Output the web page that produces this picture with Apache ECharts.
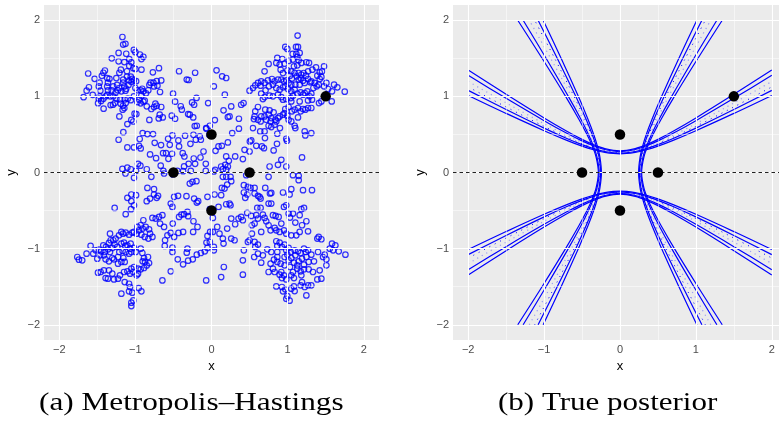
<!DOCTYPE html>
<html>
<head>
<meta charset="utf-8">
<script src="https://cdn.jsdelivr.net/npm/echarts@6/dist/echarts.min.js"></script>
<style>
  html, body { margin: 0; padding: 0; background: #fff; }
  #chart { width: 779px; height: 425px; }
</style>
</head>
<body>
<div id="chart"></div>
<script>
// tick values shared by both panels
var ticks = [-2, -1, 0, 1, 2];
var minorLines = [-1.5, -0.5, 0.5, 1.5];

// the five data points (black dots)
var obsPoints = [[-0.5, 0], [0.5, 0], [0, 0.5], [0, -0.5], [1.5, 1]];

// Metropolis-Hastings samples, read quadrant by quadrant
var mhTopLeft = [
  [-1.17,1.78],[-1.16,1.68],[-1.13,1.69],[-1.22,1.57],[-1.12,1.56],[-1.02,1.61],[-1.00,1.58],[-0.94,1.55],
  [-0.92,1.49],[-0.895,1.52],[-1.31,1.50],[-1.22,1.46],[-1.145,1.45],[-1.08,1.49],[-1.053,1.447],[-1.027,1.37],
  [-1.00,1.36],[-0.92,1.35],[-1.08,1.40],[-1.19,1.35],[-1.11,1.33],[-1.21,1.31],[-1.62,1.30],[-1.40,1.34],
  [-1.42,1.31],[-1.44,1.27],[-1.37,1.24],[-1.34,1.23],[-1.25,1.24],[-1.16,1.22],[-1.11,1.26],[-1.06,1.26],
  [-1.04,1.23],[-1.08,1.21],[-1.05,1.19],[-1.02,1.21],[-0.99,1.20],[-1.535,1.23],[-1.47,1.18],[-1.36,1.18],
  [-1.61,1.12],[-1.64,1.075],[-1.56,1.02],[-1.48,1.13],[-1.46,1.075],[-1.37,1.13],[-1.29,1.13],[-1.24,1.15],
  [-1.21,1.11],[-1.16,1.18],[-1.145,1.13],[-1.12,1.10],[-1.09,1.15],[-1.185,1.066],[-1.13,1.075],[-1.23,1.08],
  [-1.26,1.05],[-1.31,1.08],[-1.36,1.08],[-1.39,1.00],[-1.42,0.97],[-1.45,0.94],[-1.48,0.97],[-1.49,0.91],
  [-1.68,0.99],[-1.47,1.00],[-1.37,1.02],[-1.33,1.00],[-1.29,1.00],[-1.25,0.97],[-1.20,0.96],[-1.14,0.96],
  [-1.10,0.97],[-1.06,0.95],[-1.02,1.00],[-1.00,1.11],[-0.97,1.08],[-0.93,1.08],[-0.91,1.10],[-0.895,1.066],
  [-0.86,1.04],[-0.83,1.08],[-0.816,1.15],[-0.80,1.18],[-0.763,1.18],[-0.755,1.13],[-0.72,1.20],[-0.71,1.14],
  [-0.66,1.21],[-0.676,1.057],[-0.69,1.37],[-0.77,1.316],[-0.426,1.33],[-0.325,1.22],[-0.30,1.215],[-0.215,1.31],
  [-0.505,1.035],[-0.478,0.93],[-0.197,0.98],[-0.044,0.912],[-0.255,0.92],[-0.228,0.89],[-0.404,0.87],[-0.39,0.825],
  [-0.307,0.768],[-0.285,0.759],[-0.24,0.724],[-0.22,0.61],[-0.193,0.614],[-0.066,0.575],[-0.022,0.614],[-0.03,0.496],
  [-0.877,0.943],[-0.85,0.869],[-0.79,0.834],[-0.755,0.86],[-0.72,0.877],[-0.737,0.904],[-0.66,0.86],[-0.68,0.76],
  [-0.64,0.724],[-0.693,0.71],[-0.522,0.746],[-0.478,0.706],[-0.987,0.768],[-1.01,0.772],[-1.053,0.69],[-1.027,0.67],
  [-1.105,0.636],[-1.158,0.53],[-0.904,0.518],[-0.842,0.505],[-0.768,0.505],[-0.816,0.69],[-0.93,0.908],[-0.895,0.93],
  [-1.27,0.912],[-1.294,0.89],[-1.325,0.886],[-1.417,0.838],[-1.193,0.904],[-1.162,0.877],[-1.145,0.847],[-1.21,0.737],
  [-1.167,0.825],[-1.127,0.912],[-0.974,0.925],[-0.948,0.956],[-0.921,1.009],[-1.22,0.43],[-1.105,0.33],[-1.018,0.33],
  [-0.952,0.35],[-0.943,0.44],[-0.93,0.316],[-0.746,0.39],[-0.663,0.36],[-0.548,0.364],[-0.513,0.487],[-0.57,0.443],
  [-0.518,0.246],[-0.426,0.342],[-0.435,0.421],[-0.347,0.483],[-0.277,0.377],[-0.237,0.496],[-0.206,0.43],[-0.154,0.474],
  [-0.14,0.43],[-0.105,0.276],[-0.07,0.583],[-0.233,0.184],[-0.356,0.21],[-0.378,0.254],[-0.36,0.08],[-0.30,0.114],
  [-0.215,0.114],[-0.075,0.114],[-0.145,0.197],[-0.807,0.237],[-0.728,0.188],[-0.636,0.254],[-0.597,0.254],[-0.566,0.179],
  [-0.667,0.09],[-0.965,0.114],[-0.934,0.09],[-1.105,0.065],[-1.17,0.047],[-1.06,0.043],[-0.991,0.022],[-0.85,0.043],
  [-0.272,0.022],[-0.632,0.022],[-0.448,0.022],[-0.075,0.022],[-0.373,0.018]
];
var mhTopRight = [
  [1.131,1.799],[1.11,1.649],[1.136,1.649],[0.969,1.649],[0.996,1.623],[1.066,1.557],[1.114,1.557],[1.158,1.57],
  [1.127,1.518],[0.864,1.505],[0.93,1.491],[1.07,1.483],[1.145,1.474],[1.18,1.439],[1.013,1.465],[0.96,1.43],
  [0.895,1.417],[0.851,1.439],[0.75,1.426],[1.246,1.448],[1.281,1.439],[1.373,1.382],[1.325,1.351],[1.421,1.316],
  [1.452,1.329],[1.478,1.395],[1.39,1.272],[0.697,1.329],[0.908,1.351],[0.939,1.307],[0.996,1.342],[1.048,1.329],
  [1.092,1.307],[1.145,1.307],[1.18,1.285],[1.21,1.307],[1.241,1.272],[1.268,1.329],[1.083,1.395],[1.127,1.408],
  [1.031,1.272],[1.057,1.233],[1.118,1.263],[1.145,1.22],[1.171,1.237],[1.202,1.206],[1.268,1.228],[1.311,1.198],
  [1.355,1.176],[1.382,1.132],[1.408,1.154],[1.478,1.132],[1.509,1.176],[1.421,1.228],[1.443,1.255],[1.61,1.154],
  [1.653,1.119],[1.75,1.062],[1.583,1.066],[1.531,1.097],[1.338,1.11],[1.298,1.184],[1.224,1.176],[1.158,1.154],
  [1.101,1.154],[1.048,1.154],[1.013,1.176],[0.982,1.211],[0.952,1.198],[0.917,1.22],[0.873,1.22],[0.829,1.198],
  [0.794,1.228],[0.741,1.211],[0.697,1.176],[0.653,1.198],[0.61,1.176],[0.575,1.145],[0.544,1.11],[0.5,1.075],
  [0.645,1.141],[0.71,1.079],[0.754,1.132],[0.807,1.154],[0.851,1.11],[0.895,1.088],[0.939,1.119],[0.969,1.132],
  [1.004,1.097],[1.048,1.066],[1.092,1.088],[1.127,1.035],[1.171,1.053],[1.224,1.044],[1.202,1.022],[1.259,1.066],
  [1.311,1.035],[1.32,0.956],[1.29,1.0],[1.443,0.934],[1.412,0.912],[1.579,0.934],[1.487,1.0],[0.653,1.035],
  [0.675,0.965],[0.697,0.991],[0.763,1.009],[0.807,1.0],[0.873,1.022],[0.917,0.991],[0.939,0.956],[0.982,0.965],
  [1.04,0.978],[1.07,1.009],[1.048,0.934],[1.158,0.934],[1.268,0.947],[1.311,0.847],[1.268,0.847],[1.202,0.834],
  [1.136,0.847],[1.092,0.825],[1.057,0.803],[1.013,0.86],[0.969,0.834],[0.939,0.759],[0.873,0.715],[0.816,0.79],
  [0.763,0.816],[0.706,0.825],[0.653,0.737],[0.61,0.693],[0.566,0.737],[0.575,0.803],[0.61,0.86],[0.557,0.702],
  [0.544,0.583],[0.645,0.671],[0.697,0.737],[0.75,0.759],[0.785,0.715],[0.838,0.693],[0.895,0.737],[0.96,0.781],
  [0.996,0.746],[1.013,0.693],[1.048,0.671],[1.136,0.724],[1.171,0.803],[1.232,0.825],[1.092,0.614],[1.101,0.583],
  [0.75,0.614],[0.785,0.597],[0.829,0.627],[0.851,0.671],[0.776,0.671],[0.719,0.693],[0.899,0.583],[0.64,0.54],
  [0.697,0.54],[0.702,0.452],[0.864,0.509],[0.982,0.443],[0.991,0.417],[1.224,0.54],[1.232,0.487],[1.311,0.518],
  [0.504,0.408],[0.522,0.421],[0.588,0.351],[0.662,0.342],[0.689,0.32],[0.816,0.29],[0.86,0.377],[0.5,0.276],
  [0.434,0.298],[0.272,0.518],[0.36,0.706],[0.36,0.575],[0.237,0.737],[0.215,0.728],[0.259,0.868],[0.158,0.816],
  [0.175,1.022],[0.031,1.132],[0.14,1.263],[0.193,1.241],[0.066,1.342],[0.421,0.912],[0.39,0.89],[0.092,0.342],
  [0.215,0.395],[0.053,0.285],[0.136,0.351],[0.193,0.211],[0.311,0.211],[0.412,0.176],[0.228,0.154],[0.18,0.101],
  [0.127,0.079],[0.149,0.044],[0.215,0.079],[0.193,0.035],[0.048,0.035],[0.031,0.013],[0.917,0.167],[0.873,0.101],
  [0.982,0.079],[0.763,0.079],[1.189,0.198],[0.044,0.689]
];
var mhBottomLeft = [
  [-1.13,-0.013],[-1.018,-0.07],[-0.79,-0.057],[-0.623,-0.013],[-0.509,-0.026],[-0.25,-0.123],[-0.198,-0.114],[-0.285,-0.145],
  [-0.842,-0.202],[-0.755,-0.219],[-0.72,-0.333],[-0.755,-0.289],[-0.702,-0.307],[-0.807,-0.342],[-0.851,-0.377],[-1.105,-0.333],
  [-1.053,-0.289],[-0.991,-0.298],[-1.053,-0.377],[-1.018,-0.43],[-1.272,-0.465],[-1.127,-0.548],[-1.057,-0.482],[-0.535,-0.408],
  [-0.513,-0.452],[-0.491,-0.32],[-0.439,-0.307],[-0.329,-0.311],[-0.228,-0.342],[-0.175,-0.377],[-0.193,-0.395],[-0.053,-0.32],
  [-0.022,-0.482],[-0.395,-0.553],[-0.426,-0.583],[-0.36,-0.548],[-0.316,-0.518],[-0.307,-0.574],[-0.237,-0.64],[-0.184,-0.715],
  [-0.241,-0.781],[-0.018,-0.781],[-0.053,-0.833],[-0.066,-0.921],[-0.022,-0.912],[-0.053,-0.991],[-0.088,-1.035],[-0.14,-1.057],
  [-0.193,-1.079],[-0.246,-1.14],[-0.307,-1.158],[-0.373,-1.206],[-0.443,-1.14],[-0.325,-1.053],[-0.316,-1.0],[-0.513,-0.987],
  [-0.513,-1.044],[-0.614,-0.965],[-0.61,-0.89],[-0.579,-0.825],[-0.535,-0.794],[-0.491,-0.846],[-0.434,-0.794],[-0.373,-0.781],
  [-0.509,-0.671],[-0.623,-0.715],[-0.676,-0.671],[-0.689,-0.583],[-0.645,-0.561],[-0.733,-0.605],[-0.776,-0.596],[-0.895,-0.627],
  [-0.93,-0.693],[-0.974,-0.715],[-0.952,-0.759],[-0.904,-0.737],[-0.864,-0.715],[-0.82,-0.746],[-0.807,-0.803],[-0.776,-0.846],
  [-0.829,-0.868],[-0.877,-0.846],[-0.921,-0.816],[-0.983,-0.803],[-1.018,-0.781],[-1.04,-0.79],[-1.083,-0.816],[-1.127,-0.79],
  [-1.162,-0.803],[-1.184,-0.781],[-1.215,-0.825],[-1.259,-0.868],[-1.29,-0.89],[-1.333,-0.803],[-1.272,-0.947],[-1.237,-0.978],
  [-1.184,-0.934],[-1.149,-0.921],[-1.132,-0.965],[-1.105,-0.956],[-1.062,-0.934],[-1.07,-1.0],[-1.018,-0.991],[-0.996,-1.044],
  [-1.053,-1.044],[-1.083,-1.066],[-1.127,-1.044],[-1.167,-1.031],[-1.211,-1.044],[-1.228,-1.11],[-1.158,-1.123],[-1.14,-1.175],
  [-1.184,-1.175],[-1.228,-1.197],[-1.281,-1.14],[-1.303,-1.123],[-1.347,-1.167],[-1.391,-1.14],[-1.413,-1.088],[-1.448,-1.035],
  [-1.478,-1.013],[-1.522,-1.022],[-1.553,-1.066],[-1.588,-0.965],[-1.641,-1.066],[-1.763,-1.11],[-1.741,-1.145],[-1.698,-1.154],
  [-1.5,-1.132],[-1.465,-1.088],[-1.4,-1.044],[-1.36,-1.009],[-1.333,-1.044],[-1.386,-0.978],[-1.421,-0.956],[-1.347,-0.925],
  [-1.303,-0.991],[-0.93,-1.0],[-0.908,-1.057],[-0.886,-1.123],[-0.834,-1.11],[-0.873,-1.175],[-0.904,-1.167],[-0.851,-1.22],
  [-0.82,-1.189],[-0.886,-1.254],[-0.93,-1.272],[-0.965,-1.329],[-0.983,-1.351],[-1.027,-1.307],[-1.053,-1.263],[-1.018,-1.241],
  [-0.965,-1.263],[-1.07,-1.329],[-1.105,-1.298],[-1.149,-1.307],[-1.202,-1.351],[-1.228,-1.395],[-1.281,-1.404],[-1.36,-1.395],
  [-1.391,-1.386],[-1.456,-1.307],[-1.491,-1.316],[-1.413,-1.285],[-1.347,-1.285],[-1.303,-1.329],[-1.14,-1.439],[-1.083,-1.461],
  [-1.07,-1.504],[-1.04,-1.579],[-1.083,-1.561],[-1.184,-1.592],[-0.956,-1.518],[-0.921,-1.561],[-1.027,-1.68],[-1.053,-1.754],
  [-1.053,-1.71],[-0.645,-1.417],[-0.535,-1.298],[-0.07,-1.417],[-1.325,-0.89]
];
var mhBottomRight = [
  [0.149,-0.057],[0.193,-0.057],[0.25,-0.057],[0.259,-0.114],[0.206,-0.158],[0.136,-0.202],[0.04,-0.289],[0.456,-0.035],
  [0.75,-0.057],[1.07,-0.035],[1.145,-0.044],[1.145,-0.101],[0.425,-0.167],[0.478,-0.189],[0.513,-0.202],[0.566,-0.202],
  [0.706,-0.202],[0.785,-0.268],[0.939,-0.263],[1.048,-0.219],[1.026,-0.289],[1.202,-0.232],[1.32,-0.232],[0.425,-0.263],
  [0.443,-0.333],[0.469,-0.289],[0.566,-0.276],[0.61,-0.307],[0.645,-0.342],[0.632,-0.32],[0.768,-0.276],[0.785,-0.408],
  [0.75,-0.408],[0.193,-0.417],[0.237,-0.408],[0.25,-0.43],[0.092,-0.452],[0.018,-0.596],[0.075,-0.715],[0.105,-0.803],
  [0.206,-0.737],[0.259,-0.605],[0.311,-0.68],[0.355,-0.605],[0.39,-0.583],[0.412,-0.627],[0.469,-0.531],[0.522,-0.57],
  [0.531,-0.693],[0.566,-0.671],[0.588,-0.561],[0.61,-0.605],[0.645,-0.465],[0.601,-0.465],[0.675,-0.553],[0.697,-0.596],
  [0.719,-0.64],[0.75,-0.693],[0.807,-0.561],[0.842,-0.57],[0.882,-0.583],[0.917,-0.671],[0.952,-0.452],[0.982,-0.43],
  [1.013,-0.539],[1.07,-0.539],[1.031,-0.592],[1.101,-0.658],[1.158,-0.561],[1.18,-0.482],[1.215,-0.465],[1.246,-0.64],
  [1.268,-0.772],[1.189,-0.693],[1.158,-0.781],[1.114,-0.825],[1.048,-0.825],[0.982,-0.803],[0.952,-0.759],[0.895,-0.781],
  [0.851,-0.759],[0.829,-0.728],[0.776,-0.759],[0.653,-0.781],[0.531,-0.803],[0.5,-0.89],[0.566,-0.912],[0.61,-0.947],
  [0.575,-0.978],[0.478,-0.912],[0.425,-1.022],[0.149,-0.868],[0.158,-0.934],[0.259,-0.868],[0.303,-0.89],[0.031,-0.978],
  [0.031,-1.022],[0.412,-1.154],[0.412,-1.342],[0.162,-1.241],[0.127,-1.373],[0.561,-1.11],[0.61,-1.066],[0.653,-1.184],
  [0.675,-1.088],[0.733,-1.009],[0.785,-1.044],[0.82,-1.145],[0.864,-1.11],[0.864,-1.044],[0.851,-0.903],[0.895,-0.921],
  [0.864,-0.965],[0.925,-0.978],[0.96,-0.947],[1.013,-0.991],[0.982,-1.022],[1.04,-1.044],[0.996,-1.079],[0.96,-1.11],
  [1.013,-1.154],[1.048,-1.123],[1.101,-1.088],[1.092,-1.022],[1.136,-1.035],[1.171,-1.057],[1.215,-1.0],[1.237,-1.044],
  [1.268,-1.022],[1.311,-1.079],[1.246,-1.11],[1.189,-1.132],[1.145,-1.167],[1.083,-1.184],[1.127,-1.22],[1.215,-1.211],
  [1.276,-1.175],[1.346,-1.167],[1.399,-1.044],[1.39,-0.868],[1.408,-0.846],[1.443,-0.877],[1.465,-1.11],[1.509,-1.14],
  [1.509,-1.219],[1.421,-1.285],[1.39,-1.404],[1.443,-1.395],[1.333,-1.307],[1.276,-1.272],[1.215,-1.272],[1.171,-1.298],
  [1.127,-1.263],[1.07,-1.307],[1.031,-1.241],[0.96,-1.219],[0.908,-1.197],[0.864,-1.175],[0.807,-1.263],[0.776,-1.197],
  [0.75,-1.307],[0.829,-1.307],[0.917,-1.307],[0.952,-1.351],[0.982,-1.404],[0.925,-1.386],[0.895,-1.342],[1.048,-1.351],
  [1.083,-1.386],[1.18,-1.351],[1.189,-1.439],[1.171,-1.482],[1.224,-1.504],[1.268,-1.482],[1.311,-1.482],[1.083,-1.496],
  [1.048,-1.526],[1.092,-1.557],[0.969,-1.535],[0.925,-1.504],[0.851,-1.496],[0.939,-1.561],[0.996,-1.623],[0.982,-1.658],
  [1.026,-1.684],[1.246,-1.614],[1.583,-0.934],[1.627,-0.956],[1.671,-1.035],[1.597,-1.022],[1.759,-1.079],[1.553,-1.0],
  [1.487,-1.079],[0.018,-0.781],[0.171,-0.211],[0.127,-0.298]
];

// posterior contours: upper curve family, y read at each grid x
var contourX = [-2, -1.5, -1, -0.7, -0.5, -0.35, -0.2, 0, 0.2, 0.35, 0.5, 0.7, 1, 1.5, 2];
var lineA = [1.347,1.027,0.717,0.542,0.435,0.366,0.314,0.285,0.314,0.366,0.435,0.542,0.717,1.027,1.347];
var lineB = [1.276,0.974,0.681,0.515,0.415,0.351,0.302,0.275,0.302,0.351,0.415,0.515,0.681,0.974,1.276];
var dotLight = [1.195,0.914,0.641,0.489,0.397,0.338,0.294,0.270,0.294,0.338,0.397,0.489,0.641,0.914,1.195];
var dotDark = [1.124,0.861,0.606,0.464,0.379,0.324,0.284,0.262,0.284,0.324,0.379,0.464,0.606,0.861,1.124];
var lineC = [1.079,0.827,0.583,0.447,0.366,0.314,0.276,0.255,0.276,0.314,0.366,0.447,0.583,0.827,1.079];
var lineD = [1.012,0.776,0.549,0.422,0.346,0.299,0.264,0.245,0.264,0.299,0.346,0.422,0.549,0.776,1.012];

function minus(v) {
    return v < 0 ? '\u2212' + (-v) : String(v);
}

function makeAxis(idx, name, isX) {
    return {
        type: 'value',
        gridIndex: idx,
        min: -2.2,
        max: 2.2,
        name: name,
        nameLocation: 'middle',
        nameGap: isX ? 20 : 26,
        nameRotate: isX ? 0 : 90,
        nameTextStyle: { color: '#000', fontSize: 13, fontFamily: 'Liberation Sans' },
        axisLine: { show: false },
        splitLine: { show: false },
        axisTick: { show: true, customValues: ticks, length: 3, lineStyle: { color: '#333', width: 1 } },
        axisLabel: {
            customValues: ticks,
            color: '#4D4D4D',
            fontSize: 11,
            fontFamily: 'Liberation Sans',
            margin: 4,
            formatter: minus
        }
    };
}

// white panel grid drawn as mark lines (major + minor)
function gridSeries(idx) {
    var lines = [];
    ticks.forEach(function (v) {
        lines.push({ xAxis: v, lineStyle: { width: 1.1 } });
        lines.push({ yAxis: v, lineStyle: { width: 1.1 } });
    });
    minorLines.forEach(function (v) {
        lines.push({ xAxis: v, lineStyle: { width: 0.5 } });
        lines.push({ yAxis: v, lineStyle: { width: 0.5 } });
    });
    return {
        type: 'scatter',
        xAxisIndex: idx,
        yAxisIndex: idx,
        data: [],
        z: 1,
        silent: true,
        markLine: {
            silent: true,
            symbol: 'none',
            animation: false,
            label: { show: false },
            lineStyle: { color: '#fff', type: 'solid' },
            data: lines
        }
    };
}

function zeroLine(idx) {
    return {
        type: 'scatter',
        xAxisIndex: idx,
        yAxisIndex: idx,
        data: [],
        z: 4,
        silent: true,
        markLine: {
            silent: true,
            symbol: 'none',
            animation: false,
            label: { show: false },
            lineStyle: { color: '#222', type: [3.5, 3], width: 1 },
            data: [{ yAxis: 0 }]
        }
    };
}

function mhSeries(data) {
    return {
        type: 'scatter',
        xAxisIndex: 0,
        yAxisIndex: 0,
        data: data,
        symbol: 'circle',
        symbolSize: 5.5,
        z: 3,
        itemStyle: { color: 'rgba(0,0,0,0)', borderColor: '#0000ff', borderWidth: 1.2 }
    };
}

function obsSeries(idx) {
    return {
        type: 'scatter',
        xAxisIndex: idx,
        yAxisIndex: idx,
        data: obsPoints,
        symbol: 'circle',
        symbolSize: 10.5,
        z: 5,
        itemStyle: { color: '#000', opacity: 1 }
    };
}

// one contour line, placed in one of the four symmetric families
function contourSeries(vals, family, style) {
    var pts = contourX.map(function (x, i) {
        var y = vals[i];
        if (family === 'top') return [x, y];
        if (family === 'bottom') return [x, -y];
        if (family === 'left') return [-y, x];
        return [y, x];
    });
    return {
        type: 'line',
        xAxisIndex: 1,
        yAxisIndex: 1,
        data: pts,
        showSymbol: false,
        smooth: 0.3,
        z: 3,
        silent: true,
        lineStyle: style
    };
}

var solid = { color: '#0000ff', width: 1.2, type: 'solid' };
var dotL = { color: 'rgba(60,60,255,0.45)', width: 1.2, type: [1.2, 4] };
var dotD = { color: '#0000ff', width: 1, type: [1, 5] };

var series = [gridSeries(0), gridSeries(1)];
series.push(mhSeries(mhTopLeft), mhSeries(mhTopRight), mhSeries(mhBottomLeft), mhSeries(mhBottomRight));
['top', 'bottom', 'left', 'right'].forEach(function (f) {
    series.push(contourSeries(lineA, f, solid));
    series.push(contourSeries(lineB, f, solid));
    series.push(contourSeries(dotLight, f, dotL));
    series.push(contourSeries(dotDark, f, dotD));
    series.push(contourSeries(lineC, f, solid));
    series.push(contourSeries(lineD, f, solid));
});
series.push(zeroLine(0), zeroLine(1), obsSeries(0), obsSeries(1));

var chart = echarts.init(document.getElementById('chart'), null, { renderer: 'canvas' });
chart.setOption({
    animation: false,
    backgroundColor: '#fff',
    grid: [
        { left: 44, top: 5, width: 335, height: 335, show: true, backgroundColor: '#EBEBEB', borderWidth: 0, outerBoundsMode: 'none' },
        { left: 453, top: 5, width: 334, height: 335, show: true, backgroundColor: '#EBEBEB', borderWidth: 0, outerBoundsMode: 'none' }
    ],
    xAxis: [makeAxis(0, 'x', true), makeAxis(1, 'x', true)],
    yAxis: [makeAxis(0, 'y', false), makeAxis(1, 'y', false)],
    graphic: [
        {
            type: 'text', x: 39, y: 391, scaleX: 1.25,
            style: { text: '(a) Metropolis\u2013Hastings', fontSize: 25, fontFamily: 'Liberation Serif', fill: '#000' }
        },
        {
            type: 'text', x: 498, y: 391, scaleX: 1.24,
            style: { text: '(b) True posterior', fontSize: 25, fontFamily: 'Liberation Serif', fill: '#000' }
        }
    ],
    series: series
});
</script>
</body>
</html>
